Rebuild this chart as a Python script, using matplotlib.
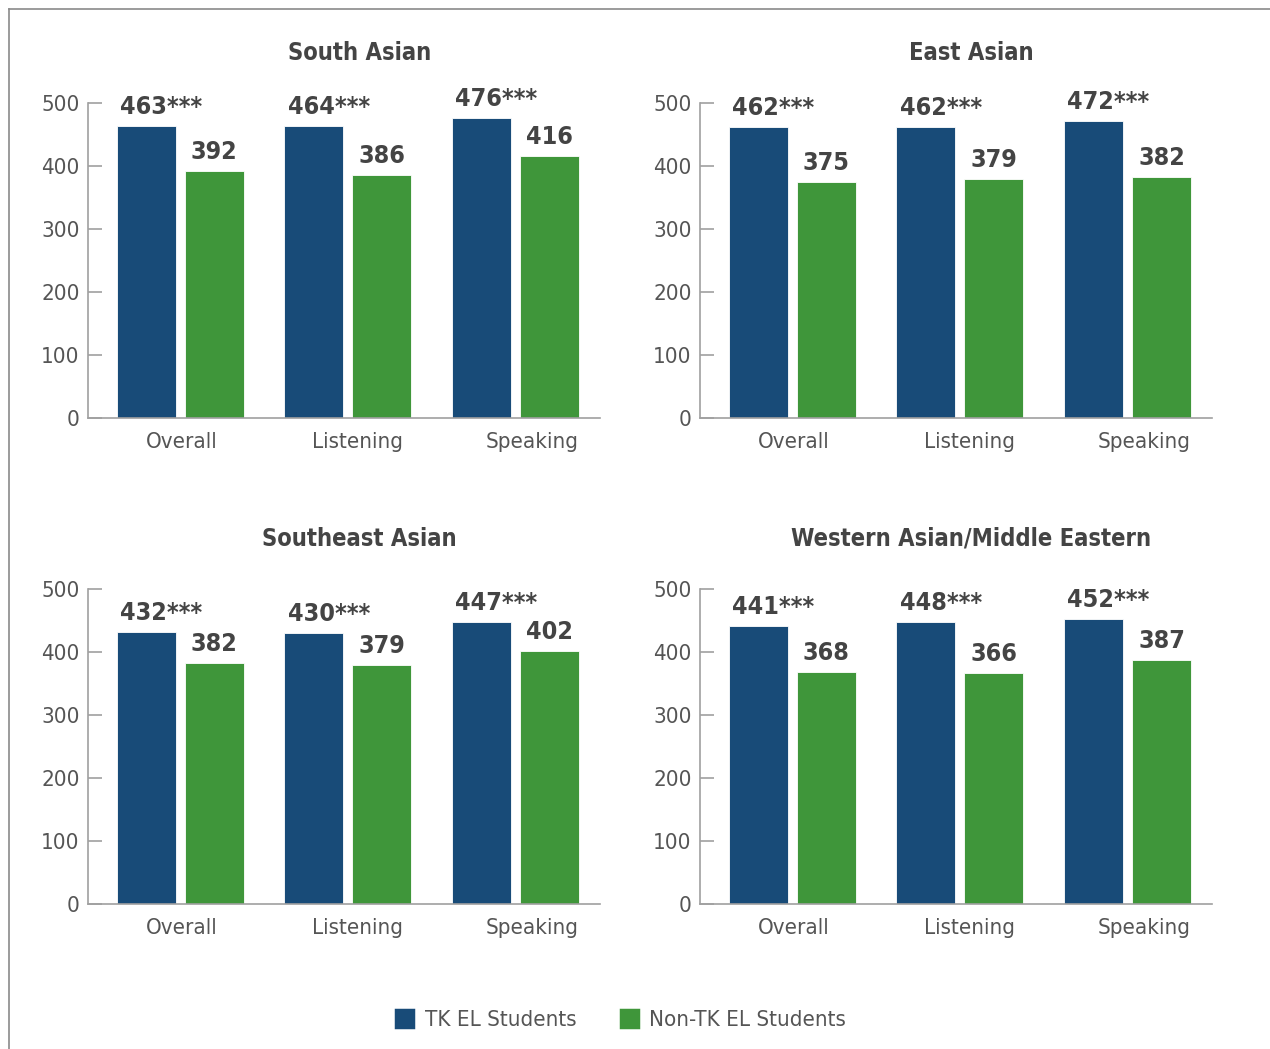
import numpy as np
import matplotlib.pyplot as plt
from matplotlib.patches import Patch
from matplotlib.lines import Line2D

plt.rcParams['font.family'] = ['DejaVu Sans']
plt.rcParams['font.stretch'] = 'condensed'

categories = ['Overall', 'Listening', 'Speaking']
groups = ['South Asian', 'East Asian', 'Southeast Asian', 'Western Asian/Middle Eastern']
tk = [[463, 464, 476], [462, 462, 472], [432, 430, 447], [441, 448, 452]]
non_tk = [[392, 386, 416], [375, 379, 382], [382, 379, 402], [368, 366, 387]]

blue = '#184b78'
green = '#3f963a'
txt = '#444444'

fig = plt.figure(figsize=(12.7, 10.49), dpi=100)

# frame lines top/left
fig.add_artist(Line2D([9/1270, 9/1270], [0, 1 - 9/1049], transform=fig.transFigure, color='#8a8a8a', lw=1.2))
fig.add_artist(Line2D([9/1270, 1], [1 - 9/1049, 1 - 9/1049], transform=fig.transFigure, color='#8a8a8a', lw=1.2))

lefts = [88/1270, 700/1270]
bottoms = [(1049-418)/1049, (1049-904)/1049]
w, h = 512/1270, 315/1049
x = np.arange(3)
bw = 0.352
off = 0.203

for k, name in enumerate(groups):
    ax = fig.add_axes([lefts[k % 2], bottoms[k // 2], w, h])
    b1 = ax.bar(x - off, tk[k], bw, color=blue, edgecolor='white', linewidth=0.6)
    b2 = ax.bar(x + off, non_tk[k], bw, color=green, edgecolor='white', linewidth=0.6)
    for r, v in zip(b1, tk[k]):
        ax.annotate(f'{v}***', (r.get_x() + 0.02, v), xytext=(0, 5), textcoords='offset points',
                    ha='left', va='bottom', fontsize=18, fontweight='bold', color=txt)
    for r, v in zip(b2, non_tk[k]):
        ax.annotate(f'{v}', (r.get_x() + r.get_width() / 2, v), xytext=(0, 5), textcoords='offset points',
                    ha='center', va='bottom', fontsize=18, fontweight='bold', color=txt)
    ax.set_xlim(-0.55, 2.504)
    ax.set_ylim(0, 500)
    ax.set_yticks([0, 100, 200, 300, 400, 500])
    ax.set_xticks(x * 1.045 + 0.01)
    ax.set_xticklabels(categories)
    ax.tick_params(axis='x', length=0, pad=10, labelsize=16, labelcolor='#555555')
    ax.tick_params(axis='y', direction='in', length=10, width=1.2, color='#a0a0a0', pad=6,
                   labelsize=16, labelcolor='#555555')
    for s in ['top', 'right']:
        ax.spines[s].set_visible(False)
    ax.spines['left'].set_color('#a0a0a0')
    ax.spines['left'].set_linewidth(1.2)
    ax.spines['bottom'].set_color('#a0a0a0')
    ax.spines['bottom'].set_linewidth(1.2)
    ax.set_title(name, fontsize=17, fontweight='bold', color=txt, pad=31, x=0.53)

handles = [Patch(facecolor=blue, edgecolor=blue, linewidth=2.5, joinstyle='round', label='TK EL Students'),
           Patch(facecolor=green, edgecolor=green, linewidth=2.5, joinstyle='round', label='Non-TK EL Students')]
fig.legend(handles=handles, loc='center', bbox_to_anchor=(621/1270, 1 - 1020/1049), ncol=2, frameon=False,
           fontsize=16, handlelength=0.8, handleheight=0.8, columnspacing=2.0, handletextpad=0.5,
           labelcolor='#555555')

fig.savefig('out.png', dpi=100)
